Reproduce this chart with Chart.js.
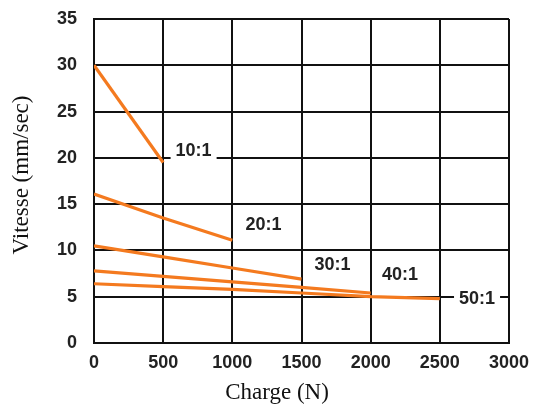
<!DOCTYPE html>
<html>
<head>
<meta charset="utf-8">
<script src="https://cdn.jsdelivr.net/npm/chart.js@4"></script>
<style>
html,body{margin:0;padding:0;background:#fff;}
#wrap{width:534px;height:407px;}
</style>
</head>
<body>
<div id="wrap"><canvas id="c"></canvas></div>
<script>
// Data
const loads10 = [0, 500];
const speeds10 = [30, 19.5];
const loads20 = [0, 500, 1000];
const speeds20 = [16.1, 13.5, 11.1];
const loads30 = [0, 500, 1000, 1500];
const speeds30 = [10.5, 9.3, 8.1, 6.9];
const loads40 = [0, 500, 1000, 1500, 2000];
const speeds40 = [7.8, 7.2, 6.6, 6.0, 5.4];
const loads50 = [0, 500, 1000, 1500, 2000, 2500];
const speeds50 = [6.4, 6.1, 5.8, 5.4, 5.0, 4.8];

const ratioNames = ['10:1', '20:1', '30:1', '40:1', '50:1'];
const ratioLabelLoad = [720, 1225, 1724, 2212, 2769];
const ratioLabelSpeed = [20.7, 12.7, 8.4, 7.3, 4.7];

const xTitle = 'Charge (N)';
const yTitle = 'Vitesse (mm/sec)';

const series = [
  [loads10, speeds10], [loads20, speeds20], [loads30, speeds30],
  [loads40, speeds40], [loads50, speeds50]
];
const ORANGE = '#f47a1f';

const datasets = series.map((s, i) => ({
  label: ratioNames[i],
  data: s[0].map((x, j) => ({x: x, y: s[1][j]})),
  borderColor: ORANGE,
  borderWidth: 3.2,
  pointRadius: 0,
  fill: false,
  tension: 0
}));

const labelPlugin = {
  id: 'ratioLabels',
  afterDatasetsDraw(chart) {
    const ctx = chart.ctx;
    const xs = chart.scales.x, ys = chart.scales.y;
    ctx.save();
    ctx.font = 'bold 18px "Liberation Sans", Arial, sans-serif';
    ctx.textAlign = 'center';
    ctx.textBaseline = 'middle';
    ratioNames.forEach((t, i) => {
      const px = xs.getPixelForValue(ratioLabelLoad[i]);
      const py = ys.getPixelForValue(ratioLabelSpeed[i]);
      const w = ctx.measureText(t).width;
      ctx.fillStyle = '#fff';
      ctx.fillRect(px - w / 2 - 5, py - 10, w + 10, 20);
      ctx.fillStyle = '#222';
      ctx.fillText(t, px, py);
    });
    ctx.restore();
  },
  afterDraw(chart) {
    const ctx = chart.ctx;
    ctx.save();
    ctx.fillStyle = '#111';
    ctx.font = '23px "Liberation Serif", "Times New Roman", serif';
    ctx.textAlign = 'center';
    ctx.textBaseline = 'middle';
    ctx.fillText(xTitle, 277, 393);
    ctx.translate(22, 175);
    ctx.rotate(-Math.PI / 2);
    ctx.fillText(yTitle, 0, 0);
    ctx.restore();
  }
};

new Chart(document.getElementById('c'), {
  type: 'line',
  data: { datasets: datasets },
  options: {
    responsive: true,
    maintainAspectRatio: false,
    animation: false,
    layout: { padding: { top: 19, right: 25, left: 0, bottom: 0 } },
    plugins: { legend: { display: false }, tooltip: { enabled: false } },
    scales: {
      x: {
        type: 'linear',
        min: 0, max: 3000,
        ticks: { stepSize: 500, padding: 9, color: '#222',
          callback: (v) => String(v),
          font: { family: '"Liberation Sans", Arial, sans-serif', size: 18, weight: 'bold' } },
        grid: { color: '#111', lineWidth: 2, drawTicks: false },
        border: { display: true, color: '#111', width: 2 },
        afterFit(scale) { scale.height = 64; scale.paddingLeft = 0; scale.paddingRight = 0; }
      },
      y: {
        type: 'linear',
        min: 0, max: 35,
        ticks: { stepSize: 5, padding: 17, color: '#222',
          callback: (v) => String(v),
          font: { family: '"Liberation Sans", Arial, sans-serif', size: 18, weight: 'bold' } },
        grid: { color: '#111', lineWidth: 2, drawTicks: false },
        border: { display: true, color: '#111', width: 2 },
        afterFit(scale) { scale.width = 94; scale.paddingTop = 0; scale.paddingBottom = 0; }
      }
    }
  },
  plugins: [labelPlugin]
});
</script>
</body>
</html>
